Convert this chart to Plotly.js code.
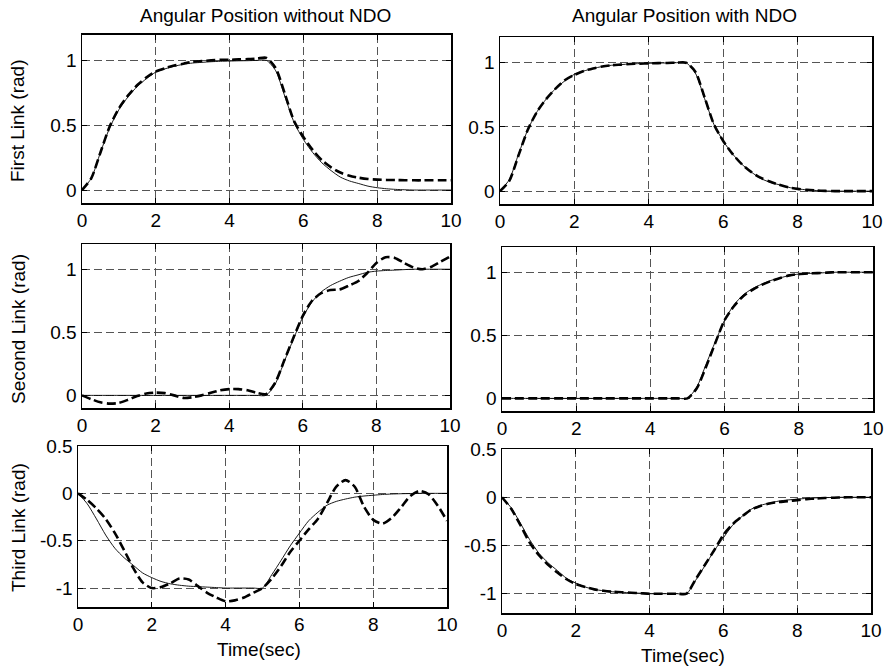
<!DOCTYPE html>
<html>
<head>
<meta charset="utf-8">
<script src="https://cdn.plot.ly/plotly-3.0.1.min.js"></script>
<style>html,body{margin:0;padding:0;background:#fff;}#chart{width:888px;height:671px;}</style>
</head>
<body>
<div id="chart"></div>
<script>
// ---- data ----
const timeSec = [0,0.25,0.5,0.75,1,1.25,1.5,1.75,2,2.25,2.5,2.75,3,3.25,3.5,3.75,4,4.25,4.5,4.75,5,5.25,5.5,5.75,6,6.25,6.5,6.75,7,7.25,7.5,7.75,8,8.25,8.5,8.75,9,9.25,9.5,9.75,10];

// First link
const link1Ref   = [0,0.09,0.29,0.48,0.62,0.72,0.80,0.86,0.91,0.935,0.955,0.97,0.98,0.985,0.99,0.993,0.995,0.997,0.998,1.0,1.0,0.92,0.72,0.52,0.39,0.29,0.21,0.15,0.10,0.07,0.05,0.03,0.018,0.01,0.005,0.002,0,0,0,0,0];
const link1NoNDO = [0,0.09,0.29,0.49,0.63,0.73,0.81,0.87,0.915,0.94,0.96,0.975,0.99,0.995,1.0,1.005,1.005,1.008,1.01,1.015,1.02,0.94,0.74,0.53,0.41,0.31,0.23,0.175,0.135,0.11,0.095,0.085,0.08,0.078,0.077,0.076,0.075,0.075,0.075,0.075,0.075];
const link1NDO   = [0,0.08,0.28,0.48,0.62,0.72,0.80,0.865,0.905,0.935,0.955,0.97,0.98,0.985,0.99,0.993,0.995,0.997,0.998,1.0,1.0,0.93,0.73,0.52,0.39,0.29,0.21,0.15,0.105,0.075,0.05,0.03,0.018,0.01,0.005,0.002,0,0,0,0,0];

// Second link
const link2Ref   = [0,0,0,0,0,0,0,0,0,0,0,0,0,0,0,0,0,0,0,0,0,0.09,0.27,0.45,0.62,0.74,0.82,0.87,0.905,0.935,0.955,0.975,0.985,0.99,0.993,0.997,1,1,1,1,1];
const link2NoNDO = [0,-0.03,-0.055,-0.065,-0.06,-0.035,-0.005,0.015,0.022,0.018,0.0,-0.02,-0.015,0.0,0.02,0.04,0.05,0.05,0.04,0.02,0.01,0.1,0.28,0.46,0.63,0.75,0.81,0.835,0.84,0.87,0.905,0.97,1.05,1.095,1.09,1.05,1.015,1.0,1.02,1.06,1.1];
const link2NDO   = [0,0,0,0,0,0,0,0,0,0,0,0,0,0,0,0,0,0,0,0,0,0.08,0.25,0.44,0.62,0.73,0.81,0.86,0.9,0.93,0.955,0.975,0.985,0.99,0.993,0.997,1,1,1,1,1];

// Third link
const link3Ref   = [0,-0.11,-0.27,-0.44,-0.58,-0.68,-0.76,-0.84,-0.89,-0.93,-0.955,-0.97,-0.98,-0.985,-0.99,-0.995,-1,-1,-1,-1,-1,-0.86,-0.71,-0.555,-0.42,-0.29,-0.2,-0.125,-0.085,-0.06,-0.04,-0.028,-0.02,-0.012,-0.007,-0.004,-0.002,0,0,0,0];
const link3NoNDO = [0,-0.07,-0.16,-0.27,-0.42,-0.6,-0.79,-0.94,-1.0,-0.99,-0.95,-0.9,-0.91,-0.98,-1.05,-1.1,-1.14,-1.13,-1.1,-1.05,-1.0,-0.9,-0.77,-0.62,-0.5,-0.38,-0.27,-0.1,0.07,0.14,0.07,-0.14,-0.28,-0.32,-0.26,-0.15,-0.03,0.025,-0.01,-0.13,-0.29];
const link3NDO   = [0,-0.12,-0.29,-0.47,-0.6,-0.7,-0.78,-0.85,-0.9,-0.93,-0.955,-0.97,-0.98,-0.985,-0.99,-0.995,-1,-1,-1,-1,-1,-0.85,-0.7,-0.55,-0.39,-0.28,-0.2,-0.13,-0.09,-0.065,-0.05,-0.04,-0.03,-0.02,-0.013,-0.008,-0.005,-0.002,0,0,0];

const xTicks = [0,2,4,6,8,10];
const yTicksTop = [0,0.5,1];
const yTicksTopText = ['0','0.5','1'];
const yTicksBottom = [-1,-0.5,0,0.5];
const yTicksBottomText = ['-1','-0.5','0','0.5'];

const colTitles = ['Angular Position without NDO','Angular Position with NDO'];
const rowTitles = ['First Link (rad)','Second Link (rad)','Third Link (rad)'];
const xTitle = 'Time(sec)';

// ---- figure ----
const W = 888, H = 671;
const FONT = 'Liberation Sans, Arial, Helvetica, sans-serif';
const fs = 19;

function thin(y, xa, ya){
  return {x: timeSec, y: y, xaxis: xa, yaxis: ya, mode: 'lines',
    line: {color: '#000', width: 0.9, shape: 'spline', smoothing: 0.7}, showlegend: false, hoverinfo: 'skip'};
}
function dashed(y, xa, ya){
  return {x: timeSec, y: y, xaxis: xa, yaxis: ya, mode: 'lines',
    line: {color: '#000', width: 2.6, dash: '9px,4px', shape: 'spline', smoothing: 0.7}, showlegend: false, hoverinfo: 'skip'};
}

const traces = [
  thin(link1Ref,'x','y'),   dashed(link1NoNDO,'x','y'),
  thin(link1Ref,'x2','y2'), dashed(link1NDO,'x2','y2'),
  thin(link2Ref,'x3','y3'), dashed(link2NoNDO,'x3','y3'),
  thin(link2Ref,'x4','y4'), dashed(link2NDO,'x4','y4'),
  thin(link3Ref,'x5','y5'), dashed(link3NoNDO,'x5','y5'),
  thin(link3Ref,'x6','y6'), dashed(link3NDO,'x6','y6')
];

// plot boxes in pixels [left, right, top, bottom]
const boxes = [
  [82,451,34.5,203],
  [500,872,37,204],
  [82,450,244,408],
  [502,873,247,411],
  [78,447,446,607],
  [502,871,449,613]
];

function xax(b, anchor){
  return {domain: [b[0]/W, b[1]/W], anchor: anchor, range: [0,10],
    tickmode: 'array', tickvals: xTicks, ticks: 'inside', ticklen: 5, tickcolor: '#000',
    showline: true, linecolor: '#000', linewidth: 1.5, mirror: 'ticks',
    showgrid: true, gridcolor: '#555', gridwidth: 1, griddash: '8px,4px',
    zeroline: false, tickfont: {family: FONT, size: fs, color: '#000'}, fixedrange: true};
}
function yax(b, anchor, bottomRow){
  return {domain: [1-b[3]/H, 1-b[2]/H], anchor: anchor,
    range: bottomRow ? [-1.2,0.5] : [-0.1,1.2],
    tickmode: 'array', tickvals: bottomRow ? yTicksBottom : yTicksTop,
    ticktext: bottomRow ? yTicksBottomText : yTicksTopText,
    ticks: 'inside', ticklen: 5, tickcolor: '#000',
    showline: true, linecolor: '#000', linewidth: 1.5, mirror: 'ticks',
    showgrid: true, gridcolor: '#555', gridwidth: 1, griddash: '8px,4px',
    zeroline: false, tickfont: {family: FONT, size: fs, color: '#000'}, fixedrange: true};
}

const layout = {
  width: W, height: H,
  margin: {l: 0, r: 0, t: 0, b: 0},
  paper_bgcolor: '#fff', plot_bgcolor: '#fff',
  font: {family: FONT, size: fs, color: '#000'},
  showlegend: false,
  annotations: []
};
const names = ['', '2', '3', '4', '5', '6'];
boxes.forEach((b, i) => {
  layout['xaxis' + names[i]] = xax(b, 'y' + names[i]);
  layout['yaxis' + names[i]] = yax(b, 'x' + names[i], i >= 4);
});

function ann(text, px, py, rot){
  layout.annotations.push({text: text, x: px/W, y: 1-py/H, xref: 'paper', yref: 'paper',
    xanchor: 'center', yanchor: 'middle', showarrow: false, textangle: rot || 0,
    font: {family: FONT, size: fs, color: '#000'}});
}
ann(colTitles[0], 265, 15);
ann(colTitles[1], 684, 15);
ann(rowTitles[0], 18, 121, -90);
ann(rowTitles[1], 18, 329, -90);
ann(rowTitles[2], 18, 528, -90);
ann(xTitle, 259, 649);
ann(xTitle, 683, 655);

Plotly.newPlot('chart', traces, layout, {staticPlot: true, displayModeBar: false});
</script>
</body>
</html>
